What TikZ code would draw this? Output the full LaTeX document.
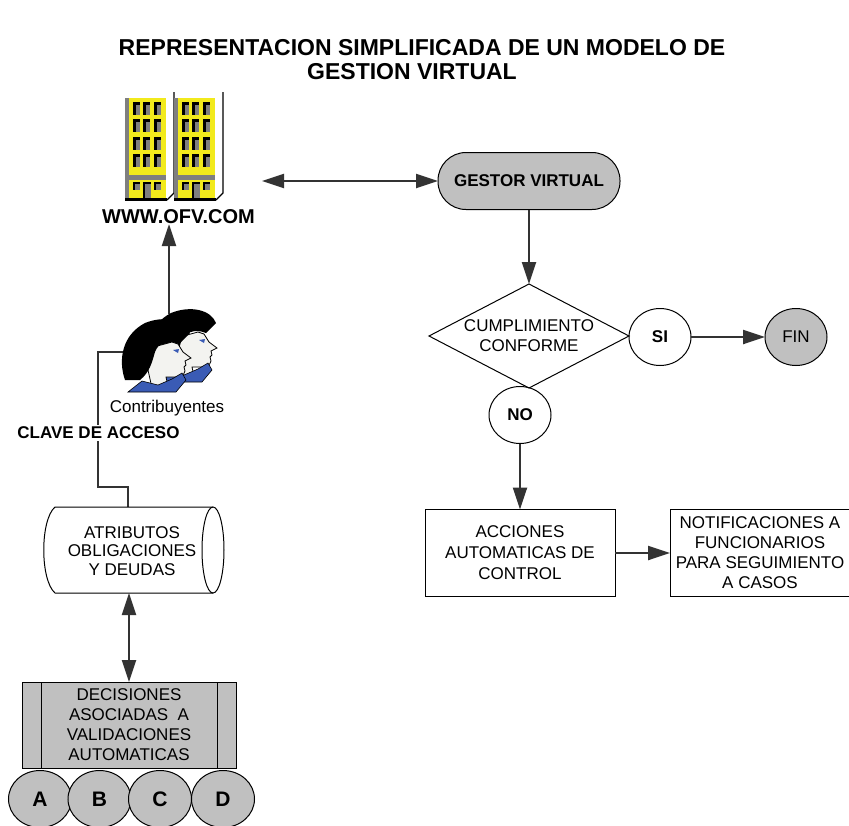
\documentclass[tikz,border=0pt]{standalone}
\usepackage{fontspec}
\setmainfont{Liberation Sans}
\usetikzlibrary{arrows.meta,shapes.geometric,calc}
\definecolor{shade}{HTML}{C0C0C0}
\definecolor{wire}{HTML}{333333}
\definecolor{bldyellow}{HTML}{F2EA1C}
\definecolor{bldgray}{HTML}{7F7F7F}
\definecolor{collar}{HTML}{3A5BB5}
\definecolor{skin}{HTML}{F3F3F0}

% one office tower of the web site icon, left edge at x = #1
\newcommand\towerblock[1]{%
  \begin{scope}[shift={(#1,0)}]
    \fill[bldgray] (0,98) rectangle (4,198);
    \fill[bldyellow] (4,98) rectangle (41,198);
    \foreach \c in {8,18,29}{\foreach \r in {102,119,137,154}{
      \fill[black] (\c,\r) rectangle ++(7,13);
      \fill[bldgray] (\c+3,\r+3) rectangle ++(4,10);}}
    \fill[bldgray] (4,175) rectangle (41,180);
    \foreach \c in {8,29}{
      \fill[black] (\c,182) rectangle ++(7,8);
      \fill[bldgray] (\c+2,184) rectangle ++(5,6);}
    \fill[black] (18,182) rectangle ++(8,16);
    \fill[bldgray] (20,184) rectangle ++(6,14);
    \draw[line width=2.5pt] (0,199.5) -- (42,199.5);
    \draw[line width=1.2pt] (42,200) -- (49,193) -- (49,92);
  \end{scope}}

% one head in profile, shifted by (#1,#2)
\newcommand\profilefig[2]{%
  \begin{scope}[shift={(#1,#2)}]
    \draw[fill=skin,line width=0.8pt] (150,348) -- (172,342) -- (178,344)
      .. controls (180,348) .. (183,352) -- (191,358) -- (185,361) -- (186,365)
      -- (184,367) -- (185,371) .. controls (183,376) .. (175,377) -- (166,377)
      -- (168,386) -- (152,388) -- (148,370) -- cycle;
    \draw[fill=collar,line width=0.6pt] (128,392) -- (142,381) -- (158,385)
      -- (172,379) -- (182,373) -- (186,380) -- (176,392) -- cycle;
    \fill[black] (125,380) .. controls (118,360) and (122,335) .. (145,323)
      .. controls (165,315) and (185,320) .. (190,333) -- (180,343)
      .. controls (168,338) and (158,343) .. (155,352)
      .. controls (152,362) and (150,372) .. (140,380) -- cycle;
    \fill[collar] (173,350) -- (179,349) -- (178,353) -- cycle;
  \end{scope}}

\begin{document}
\begin{tikzpicture}[x=1pt,y=-1pt,
  every node/.style={inner sep=0pt,outer sep=0pt},
  body/.style={font=\fontsize{17}{20}\selectfont,align=center},
  bodybold/.style={font=\fontsize{17}{20}\selectfont\bfseries,align=center},
  flowarrow/.style={draw=wire,line width=2.3pt,-{Triangle[length=22pt,width=14pt]}},
  twoway/.style={draw=wire,line width=2.3pt,
    {Triangle[length=22pt,width=14pt]}-{Triangle[length=22pt,width=14pt]}},
  plainwire/.style={draw=wire,line width=2.3pt},
  outline/.style={draw=black,line width=1pt},
  terminal/.style={outline,fill=shade,rounded corners=28pt,
    minimum width=182pt,minimum height=57pt},
  decision/.style={outline,diamond,minimum width=200pt,minimum height=104pt},
  answer/.style={outline,ellipse,minimum width=62pt,minimum height=57pt},
  processbox/.style={outline,rectangle,minimum width=190pt,minimum height=87pt},
  option/.style={outline,ellipse,fill=shade,minimum width=63pt,minimum height=57pt,
    font=\fontsize{21}{24}\selectfont\bfseries},
]
\useasboundingbox (0,0) rectangle (849,825);
\fill[white] (0,0) rectangle (849,825);
\clip (0,0) rectangle (849,825);

% title
\node[font=\fontsize{23}{26}\selectfont\bfseries] (title1) at (422,48)
  {REPRESENTACION SIMPLIFICADA DE UN MODELO DE};
\node[font=\fontsize{23}{26}\selectfont\bfseries] (title2) at (412,72)
  {GESTION VIRTUAL};

% web site
\towerblock{125}
\towerblock{174}
\node[font=\fontsize{20}{24}\selectfont\bfseries] (web) at (178.5,217) {WWW.OFV.COM};
\coordinate (siteport) at (262,181);

% virtual manager flow
\node[terminal,font=\fontsize{17}{20}\selectfont\bfseries] (gestor) at (529,181) {GESTOR VIRTUAL};
\node[decision] (check) at (529,336) {};
\node[body] at (check) {CUMPLIMIENTO\\CONFORME};
\node[answer,font=\fontsize{17}{20}\selectfont\bfseries] (si) at (660,337) {SI};
\node[answer,fill=shade,font=\fontsize{17}{20}\selectfont] (fin) at (796,337) {FIN};
\node[answer,font=\fontsize{17}{20}\selectfont\bfseries] (no) at (520,415) {NO};
\node[processbox] (acc) at (520,553) {};
\node[body,font=\fontsize{17}{21}\selectfont] at (acc) {ACCIONES\\AUTOMATICAS DE\\CONTROL};
\node[outline,minimum width=210pt,minimum height=87pt] (notif) at (775,553) {};
\node[body] at (760,553) {NOTIFICACIONES A\\FUNCIONARIOS\\PARA SEGUIMIENTO\\A CASOS};

\draw[twoway] (siteport) -- (gestor.west);
\draw[flowarrow] (gestor.south) -- (check.north);
\draw[flowarrow] (si.east) -- (fin.west);
\draw[flowarrow] (no.south) -- (acc.north);
\draw[flowarrow] (acc.east) -- (notif.west);

% taxpayers
\coordinate (crowdtop) at (169,314);
\coordinate (crowdside) at (123,352);
\coordinate (storetop) at (128,507);
\draw[flowarrow] (crowdtop) -- (crowdtop |- web.south);
\draw[plainwire] (crowdside) -- ++(-25,0) |- ($(storetop)+(0,-20)$) -- (storetop);
\profilefig{26}{-10}
\profilefig{0}{0}
\node[body] (crowdlabel) at (167,408) {Contribuyentes};
\node[bodybold,fill=white,inner sep=2pt] (keylabel) at (98.5,433) {CLAVE DE ACCESO};

% data store
\node[minimum width=158pt,minimum height=86pt] (store) at (134,550) {};
\draw[outline] (store.north east) -- (store.north west)
  .. controls (40,520) and (40,580) .. (store.south west) -- (store.south east);
\draw[outline] (store.east) ellipse [x radius=11pt,y radius=43pt];
\node[body,font=\fontsize{17}{18.5}\selectfont] at (132,551) {ATRIBUTOS\\OBLIGACIONES\\Y DEUDAS};
\coordinate (storefoot) at (129,593);

% decisions block and options
\node[outline,fill=shade,minimum width=214pt,minimum height=86pt] (decide) at (129,725) {};
\draw[outline] ($(decide.north west)+(19,0)$) -- ($(decide.south west)+(19,0)$);
\draw[outline] ($(decide.north east)+(-19,0)$) -- ($(decide.south east)+(-19,0)$);
\node[body] at (129,724.5) {DECISIONES\\ASOCIADAS\ \ A\\VALIDACIONES\\AUTOMATICAS};
\draw[twoway] (storefoot) -- (decide.north);

\node[option] (optA) at (40,799) {A};
\node[option] (optB) at (99.5,799) {B};
\node[option] (optC) at (160,799) {C};
\node[option] (optD) at (223,799) {D};
\end{tikzpicture}
\end{document}
